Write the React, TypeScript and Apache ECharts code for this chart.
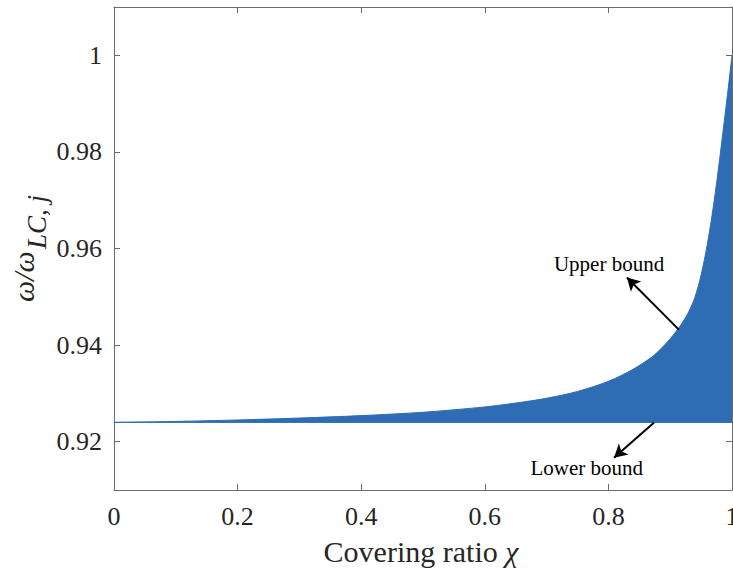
import React, { useEffect, useRef } from "react";
import * as echarts from "echarts";

// Covering ratio samples and the normalised frequency band limits
const chi = [0, 0.1, 0.2, 0.3, 0.4, 0.5, 0.6, 0.65, 0.7, 0.75, 0.8, 0.84, 0.87, 0.88, 0.89, 0.9, 0.91, 0.92, 0.93, 0.94, 0.95, 0.96, 0.97, 0.98, 0.99, 0.995, 1];
const upperBound = [0.924, 0.9242, 0.9245, 0.9249, 0.9254, 0.9261, 0.9272, 0.928, 0.929, 0.9304, 0.9325, 0.935, 0.9375, 0.9386, 0.9399, 0.9413, 0.9429, 0.9447, 0.9469, 0.9499, 0.9545, 0.9608, 0.9688, 0.9785, 0.989, 0.9944, 1.0];
const chiLower = [0, 1];
const lowerBound = [0.924, 0.924];

// Axis ticks
const yTicks = [0.92, 0.94, 0.96, 0.98, 1];
const xRange = [0, 1];
const yRange = [0.91, 1.01];

// Annotation arrows (data coordinates) and their captions
const upperArrow = [[0.914, 0.9432], [0.83, 0.954]];
const lowerArrow = [[0.874, 0.924], [0.809, 0.9167]];
const upperCaption = { text: "Upper bound", at: [0.801, 0.9567] };
const lowerCaption = { text: "Lower bound", at: [0.765, 0.9146] };

const FONT = "'Liberation Serif', 'Times New Roman', serif";
const BLUE = "#2E6DB4";
const FRAME = "#6b6b6b";
const INK = "#262626";

export default function App() {
  const ref = useRef<HTMLDivElement>(null);

  useEffect(() => {
    const chart = echarts.init(ref.current!, null, { renderer: "svg" });

    const frameAxis = {
      axisLine: { show: true, onZero: false, lineStyle: { color: FRAME, width: 1 } },
      axisTick: { show: true, inside: true, length: 6, lineStyle: { color: FRAME, width: 1 } },
      splitLine: { show: false },
    };

    chart.setOption({
      animation: false,
      backgroundColor: "#ffffff",
      grid: { left: 114, right: 1, top: 7, bottom: 82, containLabel: false, outerBoundsMode: "none" },
      xAxis: [
        {
          type: "value",
          min: xRange[0],
          max: xRange[1],
          interval: 0.2,
          position: "bottom",
          ...frameAxis,
          axisLabel: { show: true, margin: 13, fontFamily: FONT, fontSize: 26, color: INK },
        },
        {
          type: "value",
          min: xRange[0],
          max: xRange[1],
          interval: 0.2,
          position: "top",
          ...frameAxis,
          axisLabel: { show: false },
        },
      ],
      yAxis: [
        {
          type: "value",
          min: yRange[0],
          max: yRange[1],
          position: "left",
          ...frameAxis,
          axisTick: { ...frameAxis.axisTick, customValues: yTicks },
          axisLabel: {
            show: true,
            customValues: yTicks,
            margin: 12,
            fontFamily: FONT,
            fontSize: 26,
            color: INK,
            formatter: (v: number) => String(+v.toFixed(2)),
          },
        },
        {
          type: "value",
          min: yRange[0],
          max: yRange[1],
          position: "right",
          ...frameAxis,
          axisTick: { ...frameAxis.axisTick, customValues: yTicks },
          axisLabel: { show: false },
        },
      ],
      series: [
        {
          name: "Lower bound",
          type: "line",
          xAxisIndex: 0,
          yAxisIndex: 0,
          data: chiLower.map((x, i) => [x, lowerBound[i]]),
          showSymbol: false,
          lineStyle: { color: BLUE, width: 1 },
          silent: true,
        },
        {
          name: "Upper bound",
          type: "line",
          xAxisIndex: 0,
          yAxisIndex: 0,
          data: chi.map((x, i) => [x, upperBound[i]]),
          showSymbol: false,
          smooth: 0.3,
          lineStyle: { color: BLUE, width: 1 },
          areaStyle: { color: BLUE, opacity: 1, origin: lowerBound[0] },
          silent: true,
          markLine: {
            silent: true,
            symbol: ["none", "arrow"],
            symbolSize: [11, 13],
            label: { show: false },
            lineStyle: { color: "#000000", width: 2, type: "solid" },
            data: [
              [{ coord: upperArrow[0] }, { coord: upperArrow[1] }],
              [{ coord: lowerArrow[0] }, { coord: lowerArrow[1] }],
            ],
          },
        },
      ],
    });

    const px = (v: number[]) => chart.convertToPixel({ xAxisIndex: 0, yAxisIndex: 0 }, v) as number[];
    const up = px(upperCaption.at);
    const lo = px(lowerCaption.at);

    chart.setOption({
      graphic: [
        {
          type: "text",
          x: up[0],
          y: up[1],
          silent: true,
          style: { text: upperCaption.text, font: `21px ${FONT}`, fill: "#000", align: "center", verticalAlign: "middle" },
        },
        {
          type: "text",
          x: lo[0],
          y: lo[1],
          silent: true,
          style: { text: lowerCaption.text, font: `21px ${FONT}`, fill: "#000", align: "center", verticalAlign: "middle" },
        },
        {
          type: "text",
          x: 421,
          y: 551,
          silent: true,
          style: {
            text: "{n|Covering ratio }{i|χ}",
            align: "center",
            verticalAlign: "middle",
            fill: INK,
            rich: {
              n: { fontFamily: FONT, fontSize: 30, fill: INK },
              i: { fontFamily: FONT, fontSize: 30, fontStyle: "italic", fill: INK },
            },
          },
        },
        {
          type: "group",
          x: 23,
          y: 302,
          rotation: Math.PI / 2,
          silent: true,
          children: [
            {
              type: "text",
              x: 0,
              y: 0,
              style: { text: "ω/ω", font: `italic 30px ${FONT}`, fill: INK, align: "left", verticalAlign: "middle" },
            },
            {
              type: "text",
              x: 53,
              y: 14,
              style: { text: "LC, j", font: `italic 27px ${FONT}`, fill: INK, align: "left", verticalAlign: "middle" },
            },
          ],
        },
      ],
    });

    return () => chart.dispose();
  }, []);

  return <div ref={ref} style={{ position: "fixed", left: 0, top: 0, width: 733, height: 572 }} />;
}
